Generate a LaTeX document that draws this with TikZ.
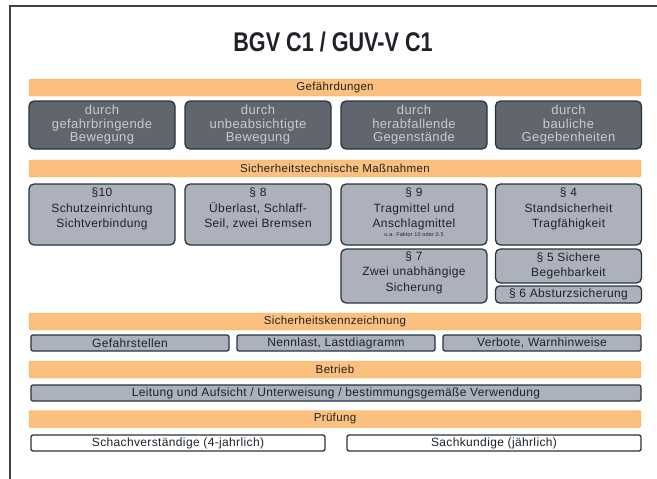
\documentclass[tikz,border=0pt]{standalone}
\usepackage{fontspec}
\setmainfont[LetterSpace=3]{Liberation Sans}
\newfontfamily\titlefont[FakeStretch=0.8]{Liberation Sans}
\usetikzlibrary{positioning}

\definecolor{barfill}{RGB}{252,192,126}
\definecolor{barline}{RGB}{246,166,82}
\definecolor{darkfill}{RGB}{96,101,110}
\definecolor{darktext}{RGB}{200,204,210}
\definecolor{lightfill}{RGB}{172,177,187}
\definecolor{boxline}{RGB}{38,54,62}
\definecolor{inktext}{RGB}{30,34,40}

\begin{document}
\begin{tikzpicture}[x=1pt,y=-1pt,
	bar/.style={draw=barline, fill=barfill, rounded corners=1.5pt, minimum width=612pt,
		minimum height=17pt, inner sep=0pt, text=inktext, font=\fontsize{11.5}{12}\selectfont},
	darkbox/.style={draw=boxline, line width=1.3pt, fill=darkfill, rounded corners=5pt,
		minimum width=146pt, minimum height=48pt, inner sep=0pt, align=center,
		text=darktext, font=\fontsize{13}{13.5}\selectfont},
	lightbox/.style={draw=boxline, line width=1.3pt, fill=lightfill, rounded corners=5pt,
		minimum width=146pt, inner sep=0pt},
	boxtext/.style={inner sep=0pt, align=center, text=inktext, font=\fontsize{12}{15.5}\selectfont},
	thinbox/.style={draw=boxline, line width=1.3pt, fill=lightfill, rounded corners=2pt,
		minimum height=16pt, inner sep=0pt, text=inktext, font=\fontsize{12}{12}\selectfont},
	]
	
	\useasboundingbox (0,0) rectangle (657,479);
	
	% frame (cut at right and bottom)
	\draw[line width=1.2pt, black!75] (10,479) -- (10,6) -- (657,6);
	
	\node[text=inktext, font=\titlefont\bfseries\fontsize{27}{30}\selectfont] (title) at (333,42) {BGV C1 / GUV-V C1};
	
	% the orange bars
	\node[bar] (gef) at (335,87.5) {Gefährdungen};
	\node[bar] (mass) at (335,168.5) {Sicherheitstechnische Maßnahmen};
	\node[bar] (kenn) at (335,321.5) {Sicherheitskennzeichnung};
	\node[bar] (betr) at (335,369.5) {Betrieb};
	\node[bar] (pruef) at (335,419) {Prüfung};
	
	% Gefaehrdungen
	\node[darkbox] (g1) at (102,125) {durch\\gefahrbringende\\Bewegung};
	\node[darkbox] (g2) at (258,125) {durch\\unbeabsichtigte\\Bewegung};
	\node[darkbox] (g3) at (414,125) {durch\\herabfallende\\Gegenstände};
	\node[darkbox] (g4) at (568.5,125) {durch\\bauliche\\Gegebenheiten};
	
	% Massnahmen, text hangs from the top edge
	\node[lightbox, minimum height=61pt] (p10) at (102,214.5) {};
	\node[lightbox, minimum height=61pt] (p8) at (258,214.5) {};
	\node[lightbox, minimum height=61pt] (p9) at (414,214.5) {};
	\node[lightbox, minimum height=61pt] (p4) at (568.5,214.5) {};
	\node[lightbox, minimum height=54pt] (p7) at (414,276) {};
	\node[lightbox, minimum height=34pt] (p5) at (568.5,266) {};
	\node[lightbox, minimum height=17pt, rounded corners=4pt] (p6) at (568.5,294.5) {};
	
	\node[boxtext, below=4.5pt of p10.north] (t10) {§10\\Schutzeinrichtung\\Sichtverbindung};
	\node[boxtext, below=4.5pt of p8.north] (t8) {§ 8\\Überlast, Schlaff-\\Seil, zwei Bremsen};
	\node[boxtext, below=4.5pt of p9.north] (t9) {§ 9\\Tragmittel und\\Anschlagmittel};
	\node[text=inktext, inner sep=0pt, font=\fontsize{5.5}{6}\selectfont, below=1.5pt of t9] (f9) {u.a. Faktor 10 oder 0.5};
	\node[boxtext, below=4.5pt of p4.north] (t4) {§ 4\\Standsicherheit\\Tragfähigkeit};
	\node[boxtext, below=3pt of p7.north] (t7) {§ 7\\Zwei unabhängige\\Sicherung};
	\node[boxtext, at=(p5)] (t5) {§ 5 Sichere\\Begehbarkeit};
	\node[boxtext, at=(p6)] (t6) {§ 6 Absturzsicherung};
	
	% Kennzeichnung
	\node[thinbox, minimum width=198pt] (k1) at (130,343) {Gefahrstellen};
	\node[thinbox, minimum width=198pt] (k2) at (336,343) {Nennlast, Lastdiagramm};
	\node[thinbox, minimum width=198pt] (k3) at (542,343) {Verbote, Warnhinweise};
	
	% Betrieb
	\node[thinbox, minimum width=610pt] (b1) at (336,393) {Leitung und Aufsicht / Unterweisung / bestimmungsgemäße Verwendung};
	
	% Pruefung
	\node[thinbox, fill=white, minimum width=294pt] (s1) at (178,443) {Schachverständige (4-jahrlich)};
	\node[thinbox, fill=white, minimum width=294pt] (s2) at (494,443) {Sachkundige (jährlich)};
	
\end{tikzpicture}
\end{document}
